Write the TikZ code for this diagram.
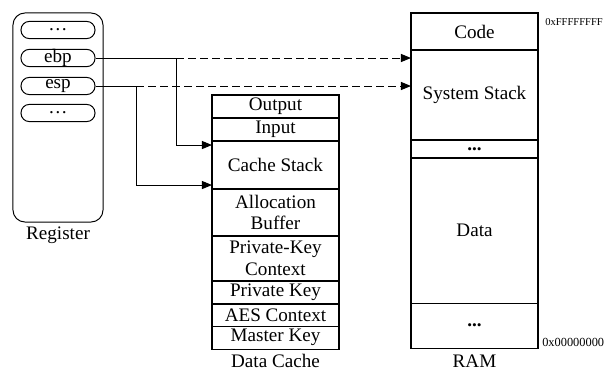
\documentclass[tikz,border=0pt]{standalone}
\usepackage{fontspec}
\setmainfont{Liberation Serif}
\usetikzlibrary{arrows.meta, positioning}
\tikzset{
  memcell/.style={rectangle, draw, line width=0.8pt, outer sep=0pt, inner sep=1pt,
                  minimum width=3.175cm, align=center,
                  font=\fontsize{13.6}{15.5}\selectfont},
  regframe/.style={rectangle, rounded corners=0.3cm, draw, line width=0.7pt,
                   minimum width=2.25cm, minimum height=5.225cm},
  regpill/.style={rectangle, rounded corners=0.21cm, draw, line width=0.7pt,
                  minimum width=1.85cm, minimum height=0.43cm, inner sep=0pt,
                  font=\fontsize{13.6}{15.5}\selectfont},
  memlabel/.style={font=\fontsize{13.6}{15.5}\selectfont, inner sep=0pt},
  addrlabel/.style={font=\fontsize{7.5}{9}\selectfont, anchor=west, inner sep=0pt},
  memline/.style={line width=0.7pt},
  memarrow/.style={memline, -{Triangle[length=0.25cm, width=0.2cm]}},
  memdash/.style={memarrow, dash pattern=on 0.2cm off 0.1cm},
}
\begin{document}
\begin{tikzpicture}[x=0.025cm, y=-0.025cm]
  \useasboundingbox (0,0) rectangle (605,371);
  % Register
  \node[regframe] (reg) at (58,117.5) {};
  \node[regpill] (r1) at (58,30) {\dots};
  \node[regpill] (ebp) at (58,58) {ebp};
  \node[regpill] (esp) at (58,86) {esp};
  \node[regpill] (r4) at (58,113) {\dots};
  \node[memlabel] (reglbl) at (58,235) {Register};
  % Data Cache
  \node[memcell, minimum height=0.575cm] (out) at (275.5,106.5) {Output};
  \node[memcell, minimum height=0.575cm, below=0pt of out] (in) {Input};
  \node[memcell, minimum height=1.2cm, below=0pt of in] (cs) {Cache Stack};
  \node[memcell, minimum height=1.175cm, below=0pt of cs] (ab) {Allocation\\Buffer};
  \node[memcell, minimum height=1.125cm, below=0pt of ab] (pkc) {Private-Key\\Context};
  \node[memcell, minimum height=0.575cm, below=0pt of pkc] (pk) {Private Key};
  \node[memcell, minimum height=0.55cm, below=0pt of pk] (aes) {AES Context};
  \node[memcell, minimum height=0.575cm, below=0pt of aes] (mk) {Master Key};
  \node[memlabel] (dclbl) at (275.5,361) {Data Cache};
  % RAM
  \node[memcell, minimum height=0.925cm] (code) at (474.5,31.5) {Code};
  \node[memcell, minimum height=2.25cm, below=0pt of code] (sys) {System Stack};
  \node[memcell, minimum height=0.45cm, below=0pt of sys] (gap) {\textbf{...}};
  \node[memcell, minimum height=3.625cm, below=0pt of gap] (data) {Data};
  \node[memcell, minimum height=1.125cm, below=0pt of data] (low) {\textbf{...}};
  \node[memlabel] (ramlbl) at (474.5,361) {RAM};
  \node[addrlabel] (hi) at (545,22) {0xFFFFFFFF};
  \node[addrlabel, font=\fontsize{8.8}{10}\selectfont] (lo) at (542,342) {0x00000000};
  % Ponteiros
  \coordinate (ebpfork) at (176,58);
  \coordinate (espfork) at (136,86);
  \draw[memline] (ebp.east) -- (ebpfork);
  \draw[memline] (esp.east) -- (espfork);
  \draw[memarrow] (ebpfork) |- ([yshift=-0.1cm]cs.north west);
  \draw[memarrow] (espfork) |- ([yshift=0.1cm]cs.south west);
  \draw[memdash] (ebpfork) -- (ebpfork -| sys.west);
  \draw[memdash] (espfork) -- (espfork -| sys.west);
\end{tikzpicture}
\end{document}
